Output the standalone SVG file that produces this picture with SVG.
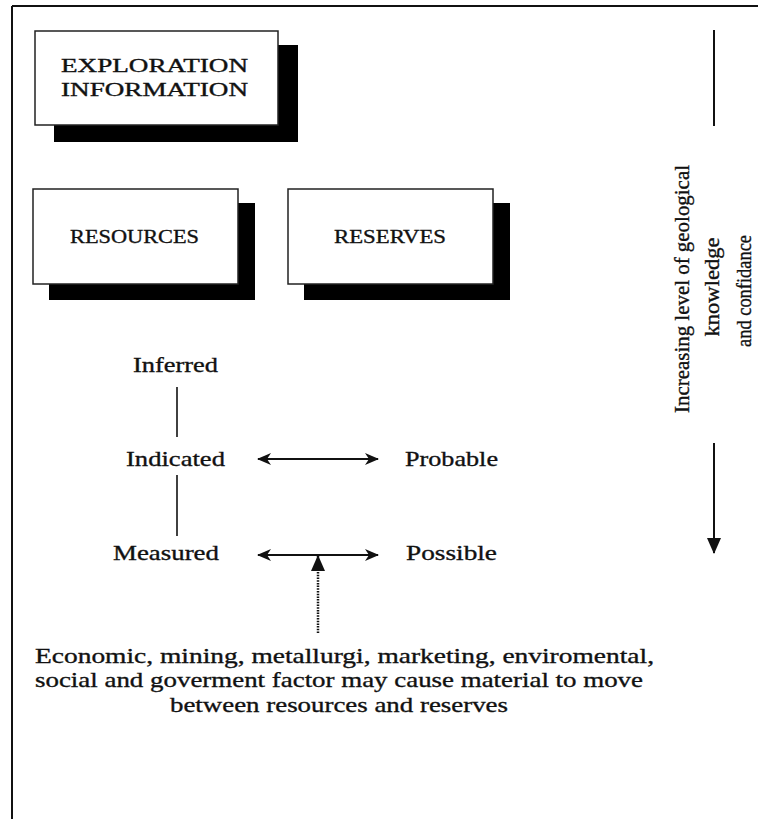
<svg xmlns="http://www.w3.org/2000/svg" width="758" height="819" viewBox="0 0 758 819">
  <style>
    .frame { stroke: #111; stroke-width: 2; fill: none; }
    .box { fill: #fff; stroke: #222; stroke-width: 1.5; }
    .shadow { fill: #000; }
    .t { font-family: "Liberation Serif", "Times New Roman", serif; fill: #111; stroke: #111; stroke-width: 0.35; }
    .boxlabel { font-size: 19px; }
    .lbl { font-size: 22px; }
    .note { font-size: 22px; }
    .side { font-size: 21px; }
    .line { stroke: #111; stroke-width: 1.6; fill: none; }
    .arrow { stroke: #111; stroke-width: 2; fill: none; }
    .dotted { stroke: #111; stroke-width: 2.5; stroke-dasharray: 1.5 1.2; fill: none; }
  </style>
  <defs>
    <marker id="barb" viewBox="0 0 14 12" refX="13" refY="6" markerWidth="14" markerHeight="12" markerUnits="userSpaceOnUse" orient="auto-start-reverse">
      <path d="M0,0 L14,6 L0,12 L4,6 Z" fill="#111"/>
    </marker>
    <marker id="solid" viewBox="0 0 16 14" refX="15" refY="7" markerWidth="16" markerHeight="14" markerUnits="userSpaceOnUse" orient="auto">
      <path d="M0,0 L16,7 L0,14 Z" fill="#111"/>
    </marker>
  </defs>

  <rect width="758" height="819" fill="#fff"/>

  <!-- page frame: left rule and top rule -->
  <g id="frame">
    <line class="frame" x1="12" y1="6" x2="758" y2="6"/>
    <line class="frame" x1="12" y1="6" x2="12" y2="819"/>
  </g>

  <!-- shadowed boxes -->
  <g id="exploration">
    <rect class="shadow" x="54" y="45" width="244" height="97"/>
    <rect class="box" x="35" y="31" width="243" height="94"/>
    <text class="t boxlabel" x="61" y="72" textLength="187" lengthAdjust="spacingAndGlyphs">EXPLORATION</text>
    <text class="t boxlabel" x="61" y="96" textLength="187" lengthAdjust="spacingAndGlyphs">INFORMATION</text>
  </g>

  <g id="resources">
    <rect class="shadow" x="49" y="203" width="206" height="97"/>
    <rect class="box" x="33" y="189" width="205" height="95"/>
    <text class="t boxlabel" x="70" y="243" textLength="129" lengthAdjust="spacingAndGlyphs">RESOURCES</text>
  </g>

  <g id="reserves">
    <rect class="shadow" x="304" y="203" width="206" height="97"/>
    <rect class="box" x="288" y="189" width="205" height="95"/>
    <text class="t boxlabel" x="334" y="243" textLength="112" lengthAdjust="spacingAndGlyphs">RESERVES</text>
  </g>

  <!-- category labels -->
  <g id="inferred"><text class="t lbl" x="133" y="372" textLength="85" lengthAdjust="spacingAndGlyphs">Inferred</text></g>
  <g id="indicated"><text class="t lbl" x="126" y="466" textLength="99" lengthAdjust="spacingAndGlyphs">Indicated</text></g>
  <g id="measured"><text class="t lbl" x="113" y="560" textLength="106" lengthAdjust="spacingAndGlyphs">Measured</text></g>
  <g id="probable"><text class="t lbl" x="405" y="466" textLength="93" lengthAdjust="spacingAndGlyphs">Probable</text></g>
  <g id="possible"><text class="t lbl" x="406" y="560" textLength="91" lengthAdjust="spacingAndGlyphs">Possible</text></g>

  <!-- modifying factors note -->
  <g id="factors">
    <text class="t note" x="35" y="663" textLength="619" lengthAdjust="spacingAndGlyphs">Economic, mining, metallurgi, marketing, enviromental,</text>
    <text class="t note" x="35" y="687" textLength="608" lengthAdjust="spacingAndGlyphs">social and goverment factor may cause material to move</text>
    <text class="t note" x="170" y="712" textLength="338" lengthAdjust="spacingAndGlyphs">between resources and reserves</text>
  </g>

  <!-- side caption -->
  <g id="confidence">
    <text class="t side" transform="translate(689,289) rotate(-90)" text-anchor="middle" textLength="248" lengthAdjust="spacingAndGlyphs">Increasing level of geological</text>
    <text class="t side" transform="translate(719,287) rotate(-90)" text-anchor="middle" textLength="99" lengthAdjust="spacingAndGlyphs">knowledge</text>
    <text class="t side" transform="translate(751,291) rotate(-90)" text-anchor="middle" textLength="112" lengthAdjust="spacingAndGlyphs">and confidance</text>
  </g>

  <!-- connectors -->
  <g id="connectors">
    <line class="line" x1="177" y1="387" x2="177" y2="437"/>
    <line class="line" x1="177" y1="475" x2="177" y2="536"/>
    <line class="arrow" x1="258" y1="459" x2="378" y2="459" marker-start="url(#barb)" marker-end="url(#barb)"/>
    <line class="arrow" x1="258" y1="555" x2="378" y2="555" marker-start="url(#barb)" marker-end="url(#barb)"/>
    <line class="dotted" x1="318" y1="633" x2="318" y2="556" marker-end="url(#solid)"/>
    <line class="arrow" x1="714" y1="30" x2="714" y2="126" stroke-width="2.5"/>
    <line class="arrow" x1="714" y1="443" x2="714" y2="553" marker-end="url(#solid)"/>
  </g>
</svg>
